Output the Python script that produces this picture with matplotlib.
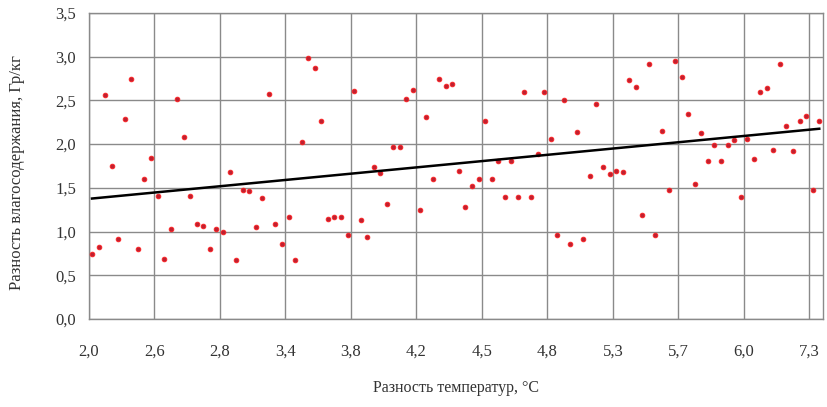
import matplotlib
matplotlib.use("Agg")
import matplotlib.pyplot as plt
import numpy as np

plt.rcParams['font.family'] = ['Liberation Serif', 'DejaVu Serif']

# humidity ratio difference for each measurement, g/kg
moisture_diff = [
    0.74, 0.82, 2.56, 1.75, 0.91, 2.29, 2.75, 0.80, 1.60, 1.84,
    1.41, 0.69, 1.03, 2.52, 2.08, 1.41, 1.09, 1.06, 0.80, 1.03,
    1.00, 1.68, 0.68, 1.475, 1.46, 1.05, 1.38, 2.57, 1.09, 0.86,
    1.165, 0.68, 2.02, 2.98, 2.87, 2.26, 1.14, 1.165, 1.165, 0.96,
    2.61, 1.13, 0.94, 1.74, 1.67, 1.32, 1.97, 1.97, 2.52, 2.62,
    1.245, 2.31, 1.60, 2.74, 2.67, 2.69, 1.69, 1.28, 1.52, 1.60,
    2.26, 1.60, 1.81, 1.39, 1.81, 1.39, 2.60, 1.40, 1.89, 2.60,
    2.06, 0.96, 2.51, 0.86, 2.14, 0.92, 1.64, 2.46, 1.74, 1.66,
    1.69, 1.68, 2.73, 2.65, 1.19, 2.92, 0.96, 2.15, 1.48, 2.95,
    2.77, 2.34, 1.54, 2.13, 1.81, 1.99, 1.81, 1.99, 2.05, 1.39,
    2.06, 1.83, 2.60, 2.64, 1.93, 2.92, 2.21, 1.92, 2.26, 2.32,
    1.47, 2.26,
]

# temperature difference labels shown every 10th category
temp_labels = ['2,0', '2,6', '2,8', '3,4', '3,8', '4,2', '4,5', '4,8',
               '5,3', '5,7', '6,0', '7,3']
y_ticks = [0.0, 0.5, 1.0, 1.5, 2.0, 2.5, 3.0, 3.5]

n = len(moisture_diff)
x = np.arange(n) + 0.5
y = np.array(moisture_diff)

fig = plt.figure(figsize=(8.27, 4.07), dpi=100)
ax = fig.add_axes([0.1073, 0.2162, 0.8873, 0.752])

ax.plot(x, y, linestyle='none', marker='o', markersize=3.4,
        markerfacecolor='#c02030', markeredgecolor='#ff2020',
        markeredgewidth=0.6, zorder=3)

# linear trend
k, b = np.polyfit(x, y, 1)
xt = np.array([x[0], x[-1]])
ax.plot(xt, k * xt + b, color='black', linewidth=1.8, zorder=4)

ax.set_xlim(0, n)
ax.set_ylim(0, 3.5)
ax.set_xticks(np.arange(0, 10 * len(temp_labels), 10))
ax.set_xticklabels(temp_labels)
ax.set_yticks(y_ticks)
ax.set_yticklabels(['{:.1f}'.format(v).replace('.', ',') for v in y_ticks])
ax.tick_params(axis='both', length=0, labelsize=12, colors='#333333')
ax.tick_params(axis='x', pad=18)
ax.tick_params(axis='y', pad=9)

ax.grid(True, color='#8a8a8a', linewidth=1.0)
ax.set_axisbelow(True)
for s in ax.spines.values():
    s.set_color('#8a8a8a')
    s.set_linewidth(1.0)

ax.set_xlabel('Разность температур, °С', fontsize=11.5, color='#333333')
ax.set_ylabel('Разность влагосодержания, Гр/кг', fontsize=12, color='#333333')
ax.xaxis.set_label_coords(0.5, -0.2)
ax.yaxis.set_label_coords(-0.087, 0.48)

fig.savefig('out.png', dpi=100)
